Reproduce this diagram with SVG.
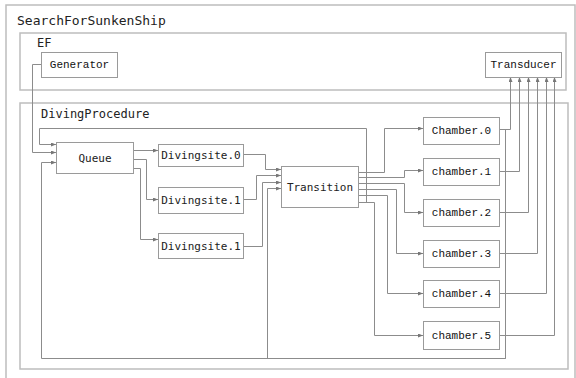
<svg xmlns="http://www.w3.org/2000/svg" width="576" height="378" viewBox="0 0 576 378">
<style>
.cont{fill:none;stroke:#bdbdbd;stroke-width:1.5}
.node rect{fill:#fff;stroke:#9a9a9a;stroke-width:1}
.title{font-family:"DejaVu Sans Mono",monospace;fill:#222}
.t1{font-family:"DejaVu Sans Mono",monospace;font-size:11px;fill:#222;text-anchor:middle;dominant-baseline:central}
.t2{font-family:"Liberation Mono",monospace;font-size:11px;fill:#111;text-anchor:middle;dominant-baseline:central}
#connectors path{fill:none;stroke:#8c8c8c;stroke-width:1;marker-end:url(#arr)}
</style>
<defs>
<marker id="arr" markerWidth="5" markerHeight="4" refX="5" refY="2" orient="auto" markerUnits="userSpaceOnUse">
<path d="M0,0 L5,2 L0,4 z" fill="#777"/>
</marker>
</defs>
<rect width="576" height="378" fill="#fff"/>
<g id="SearchForSunkenShip">
<rect class="cont" x="6" y="5" width="569" height="380"/>
<text class="title" x="17" y="25" font-size="13">SearchForSunkenShip</text>
</g>
<g id="EF">
<rect class="cont" x="20" y="33" width="546" height="57"/>
<text class="title" x="37" y="47" font-size="12">EF</text>
</g>
<g id="DivingProcedure">
<rect class="cont" x="20" y="103" width="548" height="266"/>
<text class="title" x="41" y="118" font-size="12">DivingProcedure</text>
</g>
<g id="connectors">
<path d="M41,64.5 H32.5 V152.5 H56"/>
<path d="M358,202.5 H366.5 V128.5 H39.5 V144.5 H56"/>
<path d="M499,129.5 H505.5 V358.5 H41.5 V162.5 H56"/>
<path d="M499,129.5 H505.5 V358.5 H267.5 V188.5 H281"/>
<path d="M133,150.5 H158"/>
<path d="M133,159.5 H146.5 V199.5 H158"/>
<path d="M133,168.5 H140.5 V239.5 H158"/>
<path d="M243,154.5 H265.5 V169.5 H281"/>
<path d="M243,199.5 H256.5 V175.5 H281"/>
<path d="M243,246.5 H262.5 V182.5 H281"/>
<path d="M358,172.5 H384.5 V128.5 H423"/>
<path d="M358,177.5 H404.5 V170.5 H423"/>
<path d="M358,183.5 H404.5 V212.5 H423"/>
<path d="M358,189.5 H396.5 V253.5 H423"/>
<path d="M358,195.5 H387.5 V293.5 H423"/>
<path d="M358,202.5 H374.5 V335.5 H423"/>
<path d="M499,129.5 H510.5 V77"/>
<path d="M499,171.5 H519.5 V77"/>
<path d="M499,212.5 H528.5 V77"/>
<path d="M499,253.5 H537.5 V77"/>
<path d="M499,293.5 H546.5 V77"/>
<path d="M499,335.5 H554.5 V77"/>
</g>
<g id="Generator" class="node"><rect x="41.5" y="52.5" width="76" height="25"/><text class="t2" x="79.5" y="65">Generator</text></g>
<g id="Transducer" class="node"><rect x="485.5" y="52.5" width="76" height="25"/><text class="t2" x="523.5" y="65">Transducer</text></g>
<g id="Queue" class="node"><rect x="56.5" y="142.5" width="77" height="31"/><text class="t1" x="95" y="158">Queue</text></g>
<g id="Divingsite0" class="node"><rect x="158.5" y="144.5" width="85" height="22"/><text class="t1" x="201" y="155.5">Divingsite.0</text></g>
<g id="Divingsite1" class="node"><rect x="158.5" y="187.5" width="85" height="26"/><text class="t1" x="201" y="200.5">Divingsite.1</text></g>
<g id="Divingsite1b" class="node"><rect x="158.5" y="233.5" width="85" height="25"/><text class="t1" x="201" y="246">Divingsite.1</text></g>
<g id="Transition" class="node"><rect x="281.5" y="166.5" width="77" height="41"/><text class="t1" x="320" y="187">Transition</text></g>
<g id="Chamber0" class="node"><rect x="423.5" y="117.5" width="76" height="27"/><text class="t2" x="461.5" y="131">Chamber.0</text></g>
<g id="chamber1" class="node"><rect x="423.5" y="158.5" width="76" height="27"/><text class="t2" x="461.5" y="172">chamber.1</text></g>
<g id="chamber2" class="node"><rect x="423.5" y="199.5" width="76" height="27"/><text class="t2" x="461.5" y="213">chamber.2</text></g>
<g id="chamber3" class="node"><rect x="423.5" y="240.5" width="76" height="27"/><text class="t2" x="461.5" y="254">chamber.3</text></g>
<g id="chamber4" class="node"><rect x="423.5" y="280.5" width="76" height="27"/><text class="t2" x="461.5" y="294">chamber.4</text></g>
<g id="chamber5" class="node"><rect x="423.5" y="321.5" width="76" height="28"/><text class="t2" x="461.5" y="335.5">chamber.5</text></g>
</svg>
